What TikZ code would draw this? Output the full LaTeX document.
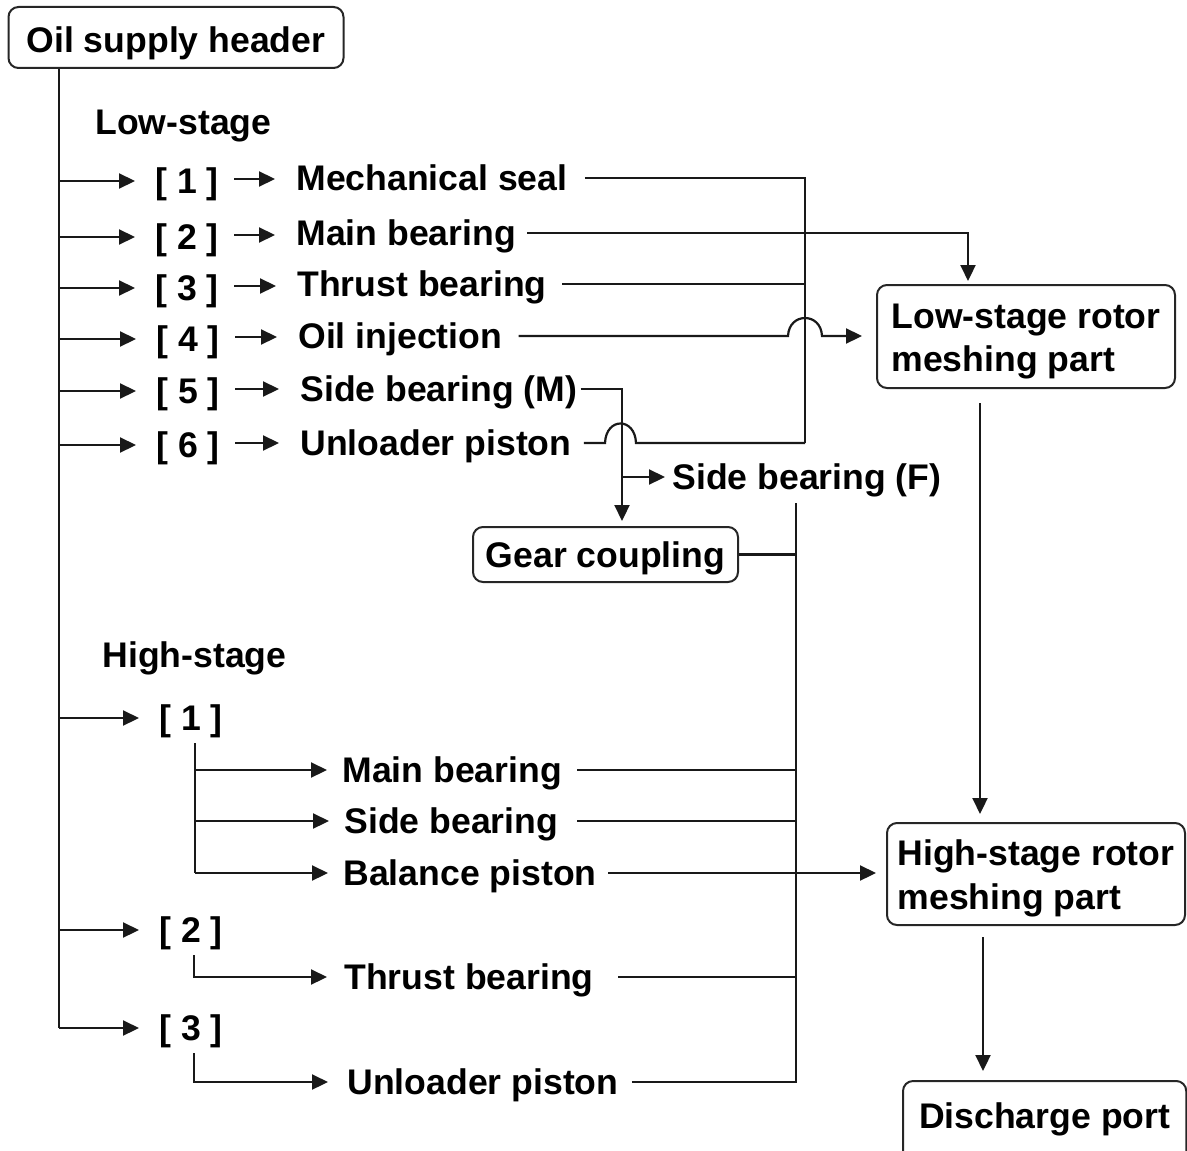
\documentclass[tikz,border=0pt]{standalone}
\usepackage{fontspec}
\setmainfont{Liberation Sans}
\usetikzlibrary{arrows.meta,calc}
\begin{document}
\begin{tikzpicture}[x=0.5pt,y=-0.5pt,
  tf/.style={font=\fontsize{17.8}{21.5}\selectfont\bfseries},
  lbl/.style={tf, inner sep=0pt, text height=12.7pt, text depth=0pt, anchor=west},
  box/.style={tf, draw=black!85, line width=1pt, rounded corners=5pt},
  ln/.style={line width=1.1pt, draw=black!90},
  arr/.style={ln, -{Triangle[length=8pt,width=7.5pt]}}]
\path[use as bounding box] (0,0) rectangle (1187,1150);
\clip (0,0) rectangle (1187,1150);

% boxes
\node[box, minimum width=167.5pt, minimum height=30.5pt, inner sep=0pt, text height=15.5pt, text depth=0pt] (hdr) at (176,37.5) {Oil supply header};
\node[box, minimum width=149pt, minimum height=51.5pt, inner sep=0pt, align=left] (lrot) at (1026,336.5) {\rule{0pt}{17.7pt}Low-stage rotor\\meshing part};
\node[box, minimum width=149pt, minimum height=51pt, inner sep=0pt, align=left] (hrot) at (1036,874) {\rule{0pt}{17.7pt}High-stage rotor\\[0.5pt]meshing part};
\node[box, inner xsep=8pt, inner ysep=11pt, text height=12.5pt, text depth=10pt, anchor=base west] (dis) at (902,1128) {Discharge port};
\node[box, minimum width=132.5pt, minimum height=27.5pt, inner sep=0pt, text height=12.7pt, text depth=0pt] (gear) at (605.5,554.5) {Gear coupling};

% low-stage labels
\node[lbl] (ls) at (95,122) {Low-stage};
\node[lbl] (b1) at (155,181) {[ 1 ]};
\node[lbl] (b2) at (155,237) {[ 2 ]};
\node[lbl] (b3) at (155,288) {[ 3 ]};
\node[lbl] (b4) at (156,339) {[ 4 ]};
\node[lbl] (b5) at (156,391) {[ 5 ]};
\node[lbl] (b6) at (156,445) {[ 6 ]};
\node[lbl] (t1) at (296,178) {Mechanical seal};
\node[lbl] (t2) at (296,233) {Main bearing};
\node[lbl] (t3) at (297,284) {Thrust bearing};
\node[lbl] (t4) at (298,336) {Oil injection};
\node[lbl] (t5) at (300,389) {Side bearing (M)};
\node[lbl] (t6) at (300,443) {Unloader piston};
\node[lbl] (sbf) at (672,477) {Side bearing (F)};

% high-stage labels
\node[lbl] (hs0) at (102,655) {High-stage};
\node[lbl] (hb1) at (159,718) {[ 1 ]};
\node[lbl] (hb2) at (159,930) {[ 2 ]};
\node[lbl] (hb3) at (159,1028) {[ 3 ]};
\node[lbl] (hm) at (342,770) {Main bearing};
\node[lbl] (hs) at (344,821) {Side bearing};
\node[lbl] (hb) at (343,873) {Balance piston};
\node[lbl] (ht) at (344,977) {Thrust bearing};
\node[lbl] (hu) at (347,1082) {Unloader piston};

% junction coordinates
\coordinate (mtop) at ([xshift=-58.5pt]hdr.south);
\coordinate (colL) at (805,178);
\coordinate (c2) at (968,233);
\coordinate (j5) at (622,389);
\coordinate (jf) at (622,477);
\coordinate (col) at (796,503);
\coordinate (s1) at ([xshift=2pt,yshift=-6pt]hb1.south);
\coordinate (s2) at ([xshift=1.5pt,yshift=-6pt]hb2.south);
\coordinate (s3) at ([xshift=1.5pt,yshift=-6pt]hb3.south);

% main supply line
\draw[ln] (mtop) -- (mtop |- hb3.west);
\foreach \n in {b1,b2,b3,b4,b5,b6,hb1,hb2,hb3}
  \draw[arr, shorten >=10pt] (mtop |- \n.west) -- (\n.west);
\foreach \b/\t in {b1/t1,b2/t2,b3/t3,b4/t4,b5/t5,b6/t6}
  \draw[arr, shorten <=7.5pt, shorten >=10.5pt] ([yshift=1pt]\b.east) -- ([yshift=1pt]\b.east -| \t.west);

% low-stage connectors
\draw[ln] ([xshift=8.5pt]t1.east) -- (colL) -- (colL |- t6.east);
\draw[ln] ([xshift=7.5pt]t3.east) -- (t3.east -| colL);
\draw[arr, shorten >=1.5pt] ([xshift=5.5pt]t2.east) -- (c2) -- (c2 |- lrot.north);
\draw[arr, shorten >=7pt] ([xshift=8pt]t4.east) -- (788,336) .. controls (789,312) and (821,312) .. (822,336) -- (lrot.west |- t4.east);
\draw[ln] ([xshift=6pt]t6.east) -- (605,443) .. controls (606,417) and (635,417) .. (636,443) -- (colL |- t6.east);
\draw[arr, shorten >=2.5pt] ([xshift=1.5pt]t5.east) -- (j5) -- (j5 |- gear.north);
\draw[arr, shorten >=3.5pt] (jf) -- (sbf.west);

% collector line
\draw[ln] (gear.east) -- (gear.east -| col);
\draw[ln] ([xshift=7.5pt]hm.east) -- (hm.east -| col);
\draw[ln] ([xshift=9.5pt]hs.east) -- (hs.east -| col);
\draw[ln] ([xshift=12pt]ht.east) -- (ht.east -| col);
\draw[ln] ([xshift=6.5pt]hu.east) -- (hu.east -| col) -- (col);
\draw[arr, shorten >=5pt] ([xshift=5.5pt]hb.east) -- (hrot.west |- hb.east);

% high-stage branches
\draw[ln] (s1) -- (s1 |- hb.west);
\foreach \n in {hm,hs,hb}
  \draw[arr, shorten >=7.5pt] (s1 |- \n.west) -- (\n.west);
\draw[arr, shorten >=8.5pt] (s2) -- (s2 |- ht.west) -- (ht.west);
\draw[arr, shorten >=9.5pt] (s3) -- (s3 |- hu.west) -- (hu.west);

% rotor flow
\draw[arr, shorten <=7pt, shorten >=4pt] ([xshift=-23pt]lrot.south) -- ([xshift=-23pt]lrot.south |- hrot.north);
\draw[arr, shorten <=5.5pt, shorten >=4.5pt] ([xshift=-26.5pt]hrot.south) -- ([xshift=-26.5pt]hrot.south |- dis.north);
\end{tikzpicture}
\end{document}
